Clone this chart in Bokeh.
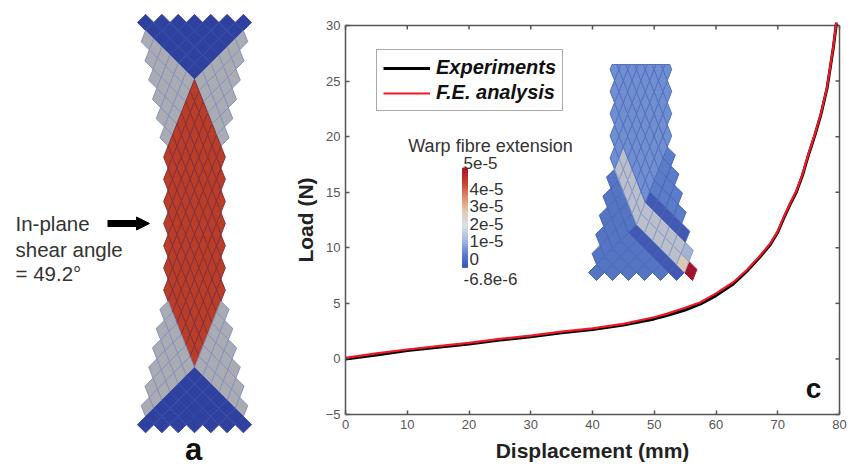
from bokeh.plotting import figure
from bokeh.models import Range1d, Legend, LegendItem, FixedTicker, Arrow, NormalHead
from bokeh.core.properties import value
from bokeh.embed import file_html
from bokeh.resources import INLINE

# ---- load curves ----
disp_exp = [0, 5, 10, 15, 20, 25, 30, 35, 40, 45, 50, 52, 55, 57.5, 60, 62.8, 65, 67, 68.8, 70, 71, 72, 73, 74, 75, 76, 77, 78, 79, 79.5]
load_exp = [0.0, 0.35, 0.75, 1.05, 1.35, 1.7, 2.0, 2.35, 2.65, 3.05, 3.6, 3.9, 4.4, 4.95, 5.7, 6.75, 7.9, 9.1, 10.3, 11.4, 12.7, 13.9, 15.0, 16.5, 18.4, 20.1, 22.0, 24.4, 28.0, 30.2]
disp_fe = [0, 5, 10, 15, 20, 25, 30, 35, 40, 45, 50, 52, 55, 57.5, 60, 62.8, 65, 67, 68.8, 70, 71, 72, 73, 74, 75, 76, 77, 78, 79, 79.5]
load_fe = [0.1, 0.5, 0.85, 1.15, 1.45, 1.8, 2.1, 2.45, 2.75, 3.15, 3.75, 4.05, 4.6, 5.1, 5.9, 6.9, 8.0, 9.2, 10.4, 11.5, 12.8, 14.0, 15.1, 16.6, 18.5, 20.2, 22.1, 24.5, 28.1, 30.3]
x_ticks = [0, 10, 20, 30, 40, 50, 60, 70, 80]
y_ticks = [-5, 0, 5, 10, 15, 20, 25, 30]

# ---- colour bar ----
cbar_title = "Warp fibre extension"
cbar_values = [5e-5, 4e-5, 3e-5, 2e-5, 1e-5, 0, -6.8e-6]
cbar_labels = ["5e-5", "4e-5", "3e-5", "2e-5", "1e-5", "0", "-6.8e-6"]
cbar_anchor_colors = ["#3550b8", "#5f7fd0", "#a8bde6", "#dcdfe6", "#e2c8b0", "#dc8a68", "#c8402e", "#b01428"]

# ---- mesh palette per zone ----
panel_a_fill = {"end": "#2f419f", "half": "#a9adb3", "full": "#b93d27"}
panel_a_line = {"end": "#3a4aa6", "half": "#8a90bd", "full": "#86303a"}

AX_LEFT, AX_RIGHT, AX_TOP, AX_BOTTOM = 345, 839, 25, 414
PAGE_W, PAGE_H = 850, 466
sx = (AX_RIGHT - AX_LEFT) / (x_ticks[-1] - x_ticks[0])
sy = (AX_BOTTOM - AX_TOP) / (y_ticks[-1] - y_ticks[0])


def along(t, d, dx, dy, t1, t2):
    s = max(min(t, t2), t1) - t1
    over = max(t - t2, 0)
    base = min(t, t1)
    return d * (base + over) + dx * s, d * (base + over) + dy * s


def cell(i, j, d, dx, dy, ta, tb, t2):
    pts = [(i - .5, j - .5), (i + .5, j - .5), (i + .5, j + .5), (i - .5, j + .5)]
    out = []
    for a, b in pts:
        la, ya = along(a, d, dx, dy, ta, t2)
        lb, yb = along(b, d, dx, dy, tb, t2)
        out.append((la - lb, ya + yb))
    return out


def clip_top(xs, ys, ymin):
    ox, oy = [], []
    n = len(xs)
    for k in range(n):
        x0, y0, x1, y1 = xs[k], ys[k], xs[(k + 1) % n], ys[(k + 1) % n]
        if y0 >= ymin:
            ox.append(x0); oy.append(y0)
        if (y0 >= ymin) != (y1 >= ymin):
            t = (ymin - y0) / (y1 - y0)
            ox.append(x0 + t * (x1 - x0)); oy.append(ymin)
    return ox, oy


# The frame fills the page; the data ranges are widened so that 0-80 and -5-30 land on the plot box.
p = figure(width=PAGE_W, height=PAGE_H,
           x_range=Range1d(x_ticks[0] - AX_LEFT / sx, x_ticks[-1] + (PAGE_W - AX_RIGHT) / sx),
           y_range=Range1d(y_ticks[0] - (PAGE_H - AX_BOTTOM) / sy, y_ticks[-1] + AX_TOP / sy),
           output_backend="svg", toolbar_location=None, min_border=0)
p.extra_x_ranges = {"px": Range1d(0, PAGE_W)}
p.extra_y_ranges = {"px": Range1d(PAGE_H, 0)}
p.grid.visible = False
p.outline_line_color = None
PX = dict(x_range_name="px", y_range_name="px")

# ---- panel a mesh ----
xs_a, ys_a, fill_a, line_a = [], [], [], []
for v in range(0, 41):
    for u in range(-6, 7):
        if (u + v) % 2:
            continue
        i, j = (v + u) // 2, (v - u) // 2
        if i <= 3 and j <= 3:
            z = "end"
        elif i >= 17 and j >= 17:
            z = "end"
        elif 4 <= i <= 16 and 4 <= j <= 16:
            z = "full"
        else:
            z = "half"
        pts = cell(i, j, 8.15, 4.4, 11.08, 3.5, 3.5, 16.5)
        xs_a.append([194 + q[0] for q in pts])
        ys_a.append([22 + q[1] for q in pts])
        fill_a.append(panel_a_fill[z])
        line_a.append(panel_a_line[z])
p.patches(xs_a, ys_a, fill_color=fill_a, line_color=line_a, line_width=1, **PX)

p.text([15, 15, 15], [223, 249, 273], text=["In-plane", "shear angle", "= 49.2°"],
       text_font=value("Liberation Sans"), text_font_size="20.5px", text_color="#333333",
       text_baseline="middle", **PX)
p.add_layout(Arrow(end=NormalHead(size=13, fill_color="black", line_color="black"),
                   x_start=107, y_start=223, x_end=149, y_end=223,
                   line_color="black", line_width=7, **PX))
p.text([193], [449], text=["a"], text_font=value("Liberation Sans"), text_font_size="31px",
       text_font_style="bold", text_color="#111111", text_align="center", text_baseline="middle", **PX)

# ---- axes ----
for ax, ticks in ((p.xaxis[0], x_ticks), (p.yaxis[0], y_ticks)):
    ax.ticker = FixedTicker(ticks=ticks)
    ax.bounds = (ticks[0], ticks[-1])
    ax.fixed_location = (x_ticks if ax is p.yaxis[0] else y_ticks)[0]
    ax.major_tick_in = 4
    ax.major_tick_out = 0
    ax.minor_tick_line_color = None
    ax.axis_line_color = "#555555"
    ax.axis_line_width = 1.5
    ax.major_tick_line_color = "#555555"
    ax.major_tick_line_width = 1.5
    ax.major_label_text_font = "Liberation Sans"
    ax.major_label_text_font_size = "13px"
    ax.major_label_text_color = "#555555"
    ax.major_label_standoff = 5
    ax.axis_label_text_font = "Liberation Sans"
    ax.axis_label_text_font_size = "21px"
    ax.axis_label_text_font_style = "bold"
    ax.axis_label_text_color = "#222222"
p.xaxis[0].axis_label = "Displacement (mm)"
p.yaxis[0].axis_label = "Load (N)"
p.xaxis[0].axis_label_standoff = 7
p.yaxis[0].axis_label_standoff = 6

# top and right edges of the box, with their mirrored ticks
p.segment(x_ticks, [30] * len(x_ticks), x_ticks, [29.64] * len(x_ticks), line_color="#555555", line_width=1.5)
p.segment([80] * len(y_ticks), y_ticks, [79.35] * len(y_ticks), y_ticks, line_color="#555555", line_width=1.5)
p.segment([0, 80], [30, -5], [80, 80], [30, 30], line_color="#555555", line_width=1.5)

# ---- inset mesh ----
xs_i, ys_i, fill_i, line_i = [], [], [], []
for v in range(0, 27):
    for u in range(-6, 7):
        if (u + v) % 2:
            continue
        i, j = (v + u) // 2, (v - u) // 2
        if i == 3 and j == -3:
            f, l = "#a0142e", "#a0142e"
        elif i == 3 and j == -2:
            f, l = "#d8c8b4", "#b0b0c4"
        elif i == 4 and j == -2:
            f, l = "#a3b3d2", "#8a9cc8"
        elif i in (3, 4) and j <= 8:
            f, l = "#b9c0cc", "#8e9ac6"
        elif i >= 5 and j >= 4 or i >= 3 and j > 8:
            f, l = "#6f8fd2", "#5571bd"
        elif i == 2 and j <= 3 or i == 5 and j <= 3:
            f, l = "#4259b4", "#4a62b8"
        elif i >= 5:
            f, l = "#5b7cc8", "#4a66b8"
        else:
            f, l = "#5575c3", "#4767ba"
        pts = cell(i, j, 8.0, 4.4, 11.08, 2.5, 3.5, 40)
        x, y = clip_top([644 + q[0] for q in pts], [272 - q[1] for q in pts], 64)
        if len(x) >= 3:
            xs_i.append(x); ys_i.append(y); fill_i.append(f); line_i.append(l)
p.patches(xs_i, ys_i, fill_color=fill_i, line_color=line_i, line_width=1, **PX)


# ---- colour bar ----
def mix(t):
    pos = t * (len(cbar_anchor_colors) - 1)
    k = min(int(pos), len(cbar_anchor_colors) - 2)
    f = pos - k
    c0 = cbar_anchor_colors[k]
    c1 = cbar_anchor_colors[k + 1]
    rgb = [round(int(c0[n:n + 2], 16) * (1 - f) + int(c1[n:n + 2], 16) * f) for n in (1, 3, 5)]
    return "#%02x%02x%02x" % tuple(rgb)


n_seg = 50
lo, hi = cbar_values[-1], cbar_values[0]
b_edges = [lo + (hi - lo) * k / n_seg for k in range(n_seg)]
t_edges = [lo + (hi - lo) * (k + 1) / n_seg for k in range(n_seg)]
seg_cols = [mix((k + .5) / n_seg) for k in range(n_seg)]
scale_px = 1.75e6
p.quad(left=462, right=467, bottom=[255 - b * scale_px for b in b_edges], top=[255 - t * scale_px for t in t_edges],
       fill_color=seg_cols, line_color=seg_cols, **PX)
label_x = [463, 469, 469, 469, 469, 469, 463]
label_y = [258 - val * scale_px for val in cbar_values]
label_y[0] -= 8
label_y[-1] += 9
p.text(label_x, label_y, text=cbar_labels, text_font=value("Liberation Sans"), text_font_size="17px",
       text_color="#333333", text_baseline="middle", **PX)
p.text([490], [145], text=[cbar_title], text_font=value("Liberation Sans"), text_font_size="18px",
       text_color="#333333", text_align="center", text_baseline="middle", **PX)

# ---- curves and legend ----
r1 = p.line(disp_exp, load_exp, line_color="black", line_width=3)
r2 = p.line(disp_fe, load_fe, line_color="#f01824", line_width=2.2)
leg = Legend(items=[LegendItem(label="Experiments", renderers=[r1]),
                    LegendItem(label="F.E. analysis", renderers=[r2])],
             location=(376, PAGE_H - 111), margin=0, padding=6, spacing=2, glyph_width=47, glyph_height=22,
             label_standoff=6, label_text_font="Liberation Sans", label_text_font_size="20px",
             label_text_font_style="bold italic", label_text_color="#111111",
             border_line_color="#555555", border_line_width=1.5)
p.add_layout(leg, "center")

p.text([813], [388], text=["c"], text_font=value("Liberation Sans"), text_font_size="28px",
       text_font_style="bold", text_color="#111111", text_align="center", text_baseline="middle", **PX)

open("out.html", "w").write(file_html(p, INLINE))
